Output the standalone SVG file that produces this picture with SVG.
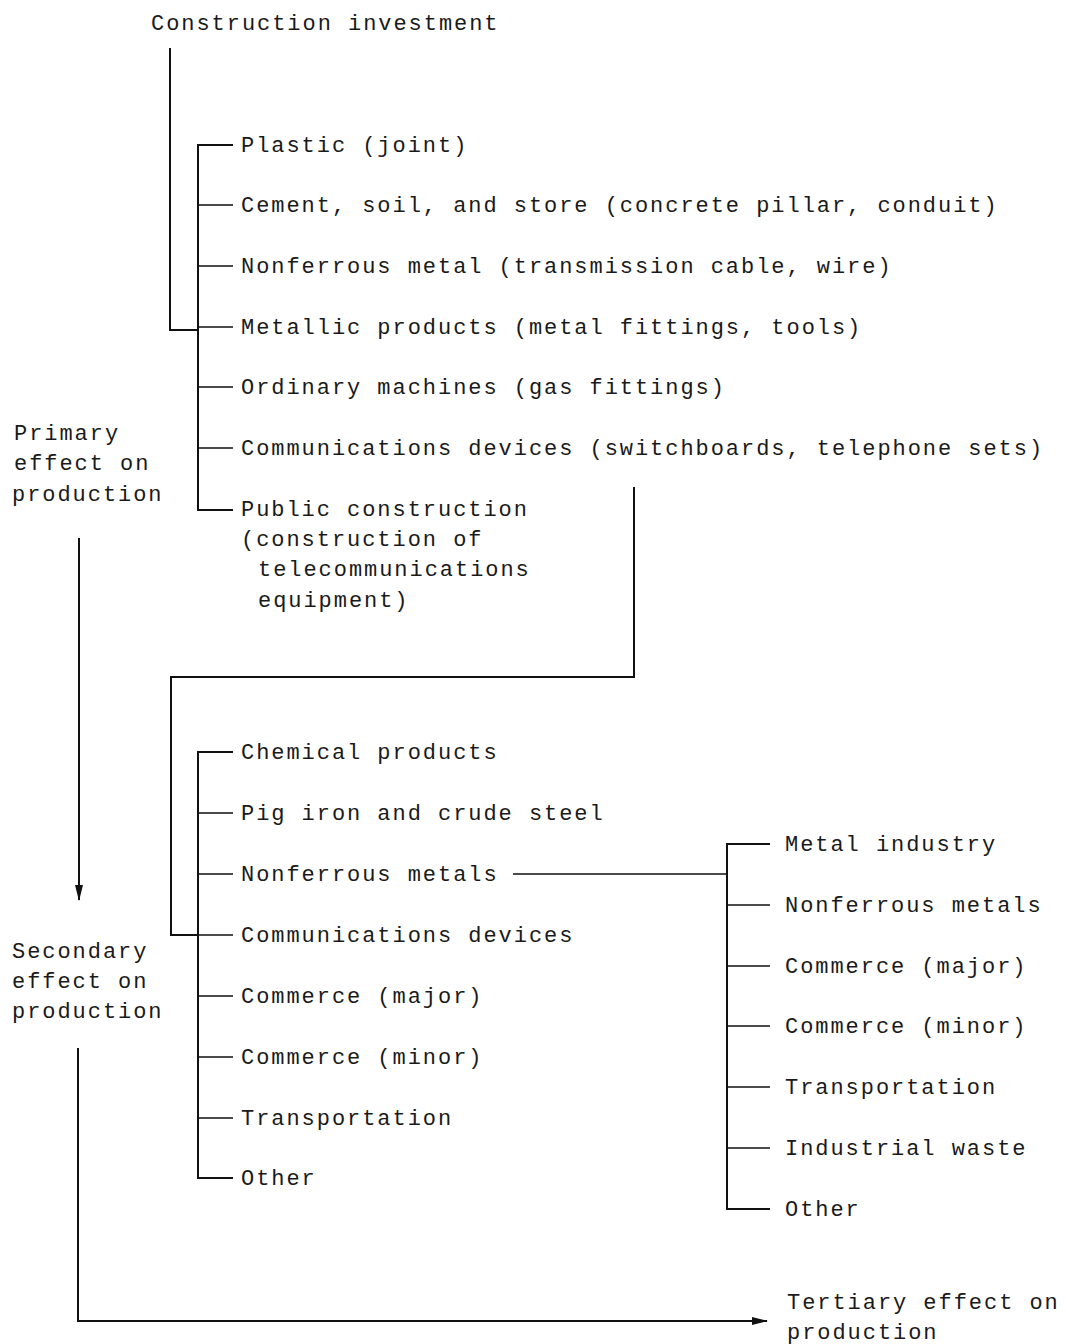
<svg xmlns="http://www.w3.org/2000/svg" width="1066" height="1344" viewBox="0 0 1066 1344">
<defs>
<style>
text{font-family:"Liberation Mono","DejaVu Sans Mono",monospace;font-size:22px;letter-spacing:1.95px;fill:#1a1a1a}
.ln{stroke:#111;stroke-width:2;fill:none}
.tk{stroke:#111;stroke-width:1.5;fill:none}
</style>
<marker id="ah" markerWidth="16" markerHeight="8" refX="15" refY="4" orient="auto" markerUnits="userSpaceOnUse">
<path d="M0,0 L16,4 L0,8 Z" fill="#111"/>
</marker>
</defs>
<rect width="1066" height="1344" fill="#fff"/>

<g id="connectors">
<path class="ln" d="M170,48 V330 H198"/>
<path class="ln" d="M233,145 H198 V510 H233"/>
<path class="tk" d="M198,205 H233 M198,266 H233 M198,327 H233 M198,387 H233 M198,448 H233"/>
<path class="ln" d="M634,487 V677 H171 V935 H198"/>
<path class="ln" d="M233,752 H198 V1178 H233"/>
<path class="tk" d="M198,813 H233 M198,874 H233 M198,935 H233 M198,996 H233 M198,1057 H233 M198,1118 H233"/>
<path class="tk" d="M513,874 H727"/>
<path class="ln" d="M770,844 H727 V1209 H770"/>
<path class="tk" d="M727,905 H770 M727,966 H770 M727,1026 H770 M727,1087 H770 M727,1148 H770"/>
<path class="ln" d="M79,538 V900" marker-end="url(#ah)"/>
<path class="ln" d="M78,1048 V1321 H767" marker-end="url(#ah)"/>
</g>

<g id="n-investment"><text x="151" y="30">Construction investment</text></g>

<g id="n-primary-items">
<text x="241" y="152">Plastic (joint)</text>
<text x="241" y="212">Cement, soil, and store (concrete pillar, conduit)</text>
<text x="241" y="273">Nonferrous metal (transmission cable, wire)</text>
<text x="241" y="334">Metallic products (metal fittings, tools)</text>
<text x="241" y="394">Ordinary machines (gas fittings)</text>
<text x="241" y="455">Communications devices (switchboards, telephone sets)</text>
<text x="241" y="516">Public construction</text>
<text x="241" y="546">(construction of</text>
<text x="258" y="576">telecommunications</text>
<text x="258" y="607">equipment)</text>
</g>

<g id="n-primary-label">
<text x="14" y="440">Primary</text>
<text x="14" y="470">effect on</text>
<text x="12" y="501">production</text>
</g>

<g id="n-secondary-items">
<text x="241" y="759">Chemical products</text>
<text x="241" y="820">Pig iron and crude steel</text>
<text x="241" y="881">Nonferrous metals</text>
<text x="241" y="942">Communications devices</text>
<text x="241" y="1003">Commerce (major)</text>
<text x="241" y="1064">Commerce (minor)</text>
<text x="241" y="1125">Transportation</text>
<text x="241" y="1185">Other</text>
</g>

<g id="n-secondary-label">
<text x="12" y="958">Secondary</text>
<text x="12" y="988">effect on</text>
<text x="12" y="1018">production</text>
</g>

<g id="n-tertiary-items">
<text x="785" y="851">Metal industry</text>
<text x="785" y="912">Nonferrous metals</text>
<text x="785" y="973">Commerce (major)</text>
<text x="785" y="1033">Commerce (minor)</text>
<text x="785" y="1094">Transportation</text>
<text x="785" y="1155">Industrial waste</text>
<text x="785" y="1216">Other</text>
</g>

<g id="n-tertiary-label">
<text x="787" y="1309">Tertiary effect on</text>
<text x="787" y="1339">production</text>
</g>
</svg>
